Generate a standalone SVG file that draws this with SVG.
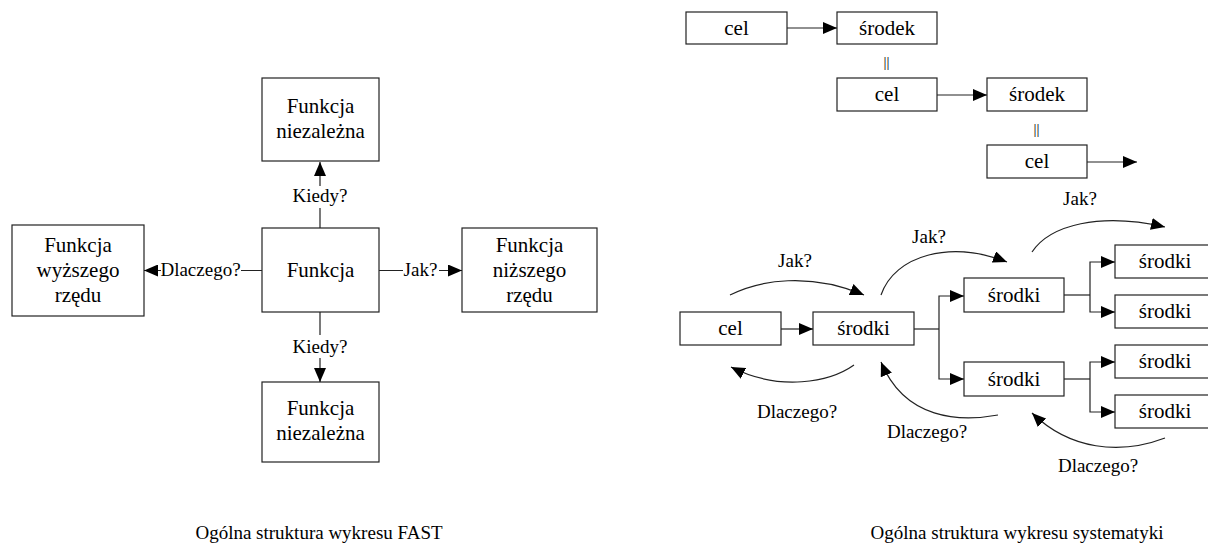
<svg xmlns="http://www.w3.org/2000/svg" width="1208" height="544" viewBox="0 0 1208 544">
<style>
.box{fill:#fff;stroke:#222;stroke-width:1.2}
.t{font-size:21px;fill:#000;text-anchor:middle}
.l{font-size:19px;fill:#000;text-anchor:middle}
.ln{fill:none;stroke:#222;stroke-width:1.2}
.arr{marker-end:url(#ah)}
</style>
<defs>
<marker id="ah" markerUnits="userSpaceOnUse" markerWidth="14" markerHeight="12" refX="14" refY="6" orient="auto">
<path d="M0,0 L14,6 L0,12 Z" fill="#000"/>
</marker>
</defs>
<rect width="1208" height="544" fill="#fff"/>
<g font-family="'Liberation Serif', 'DejaVu Serif', serif">

<g id="fast-top">
<rect class="box" x="262" y="78" width="117" height="83"/>
<text class="t" x="320.5" y="113">Funkcja</text>
<text class="t" x="320.5" y="138">niezależna</text>
</g>
<g id="fast-center">
<rect class="box" x="262" y="228" width="117" height="84"/>
<text class="t" x="320.5" y="277">Funkcja</text>
</g>
<g id="fast-left">
<rect class="box" x="12" y="225" width="132" height="91"/>
<text class="t" x="78" y="252">Funkcja</text>
<text class="t" x="78" y="277">wyższego</text>
<text class="t" x="78" y="302">rzędu</text>
</g>
<g id="fast-right">
<rect class="box" x="462" y="228" width="135" height="84"/>
<text class="t" x="529.5" y="252">Funkcja</text>
<text class="t" x="529.5" y="277">niższego</text>
<text class="t" x="529.5" y="302">rzędu</text>
</g>
<g id="fast-bottom">
<rect class="box" x="262" y="382" width="117" height="80"/>
<text class="t" x="320.5" y="415">Funkcja</text>
<text class="t" x="320.5" y="440">niezależna</text>
</g>
<g id="fast-connectors">
<path class="ln arr" d="M320,228 V208 M320,186 V162"/>
<text class="l" x="320" y="202">Kiedy?</text>
<path class="ln arr" d="M320,312 V335 M320,358 V382"/>
<text class="l" x="320" y="353">Kiedy?</text>
<path class="ln arr" d="M262,270.5 H241 M161,270.5 H144"/>
<text class="l" x="200.5" y="276">Dlaczego?</text>
<path class="ln arr" d="M379,270.5 H403 M439,270.5 H462"/>
<text class="l" x="420.5" y="276">Jak?</text>
</g>
<text class="l" x="319" y="539">Ogólna struktura wykresu FAST</text>

<g id="chain-cel1">
<rect class="box" x="686" y="12" width="101" height="32"/>
<text class="t" x="736.5" y="34.5">cel</text>
</g>
<g id="chain-srodek1">
<rect class="box" x="837" y="12" width="100" height="32"/>
<text class="t" x="887" y="34.5">środek</text>
</g>
<g id="chain-cel2">
<rect class="box" x="837" y="78" width="100" height="33"/>
<text class="t" x="887" y="101">cel</text>
</g>
<g id="chain-srodek2">
<rect class="box" x="987" y="78" width="100" height="33"/>
<text class="t" x="1037" y="101">środek</text>
</g>
<g id="chain-cel3">
<rect class="box" x="987" y="145" width="100" height="33"/>
<text class="t" x="1037" y="168">cel</text>
</g>
<text class="l" x="886.5" y="67" style="font-size:15px">||</text>
<text class="l" x="1036.5" y="134" style="font-size:15px">||</text>

<g id="tree-cel">
<rect class="box" x="680" y="312" width="101" height="33"/>
<text class="t" x="730.5" y="335">cel</text>
</g>
<g id="tree-srodki">
<rect class="box" x="813" y="312" width="101" height="33"/>
<text class="t" x="863.5" y="335">środki</text>
</g>
<g id="tree-mid1">
<rect class="box" x="964" y="278" width="100" height="34"/>
<text class="t" x="1014" y="301.5">środki</text>
</g>
<g id="tree-mid2">
<rect class="box" x="964" y="362" width="100" height="34"/>
<text class="t" x="1014" y="385.5">środki</text>
</g>
<g id="tree-leaf1">
<rect class="box" x="1115" y="245" width="100" height="33"/>
<text class="t" x="1165" y="268">środki</text>
</g>
<g id="tree-leaf2">
<rect class="box" x="1115" y="295" width="100" height="33"/>
<text class="t" x="1165" y="318">środki</text>
</g>
<g id="tree-leaf3">
<rect class="box" x="1115" y="345" width="100" height="33"/>
<text class="t" x="1165" y="368">środki</text>
</g>
<g id="tree-leaf4">
<rect class="box" x="1115" y="395" width="100" height="33"/>
<text class="t" x="1165" y="418">środki</text>
</g>

<g id="connectors">
<path class="ln arr" d="M787,28 H837"/>
<path class="ln arr" d="M937,95 H987"/>
<path class="ln arr" d="M1087,162 H1137"/>
<path class="ln arr" d="M781,329 H813"/>
<path class="ln" d="M914,329 H939"/>
<path class="ln arr" d="M939,329 V296 H964"/>
<path class="ln arr" d="M939,329 V379 H964"/>
<path class="ln" d="M1064,295 H1090"/>
<path class="ln arr" d="M1090,295 V262 H1115"/>
<path class="ln arr" d="M1090,295 V312 H1115"/>
<path class="ln" d="M1064,379 H1090"/>
<path class="ln arr" d="M1090,379 V362 H1115"/>
<path class="ln arr" d="M1090,379 V412 H1115"/>
<path class="ln arr" d="M730,295 C760,280 810,272 864,295"/>
<path class="ln arr" d="M881,295 C895,255 950,240 1007,262"/>
<path class="ln arr" d="M1032,252 C1050,225 1100,212 1165,227"/>
<path class="ln arr" d="M854,365 C830,382 780,392 731,367"/>
<path class="ln arr" d="M998,415 C960,422 905,420 881,362"/>
<path class="ln arr" d="M1165,438 C1120,455 1070,450 1032,413"/>
</g>
<text class="l" x="795" y="267">Jak?</text>
<text class="l" x="929" y="243">Jak?</text>
<text class="l" x="1080" y="205">Jak?</text>
<text class="l" x="797" y="418">Dlaczego?</text>
<text class="l" x="927" y="438">Dlaczego?</text>
<text class="l" x="1098" y="472">Dlaczego?</text>
<text class="l" x="1017" y="539">Ogólna struktura wykresu systematyki</text>
</g>
</svg>
